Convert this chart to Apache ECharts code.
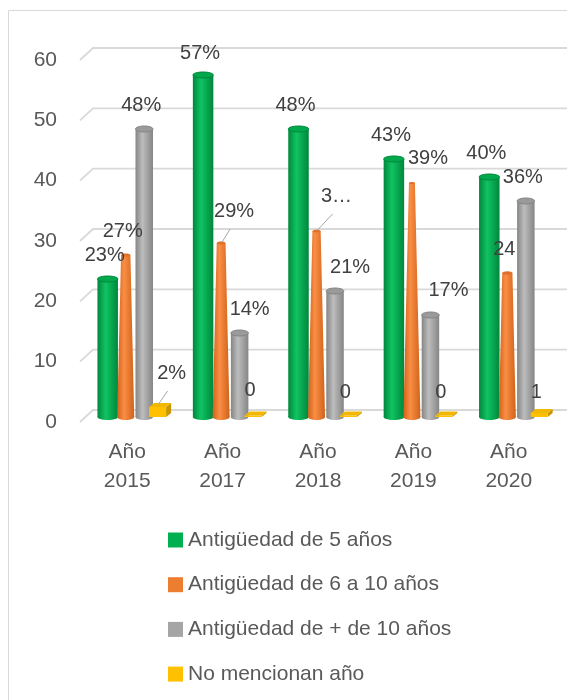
<!DOCTYPE html>
<html>
<head>
<meta charset="utf-8">
<script src="https://cdn.jsdelivr.net/npm/echarts@6/dist/echarts.min.js"></script>
<style>
  html, body { margin: 0; padding: 0; background: #fff; }
  #main { width: 567px; height: 700px; }
</style>
</head>
<body>
<div id="main"></div>
<script>
// datos
var categories = ['Año 2015', 'Año 2017', 'Año 2018', 'Año 2019', 'Año 2020'];
var seriesNames = ['Antigüedad de 5 años', 'Antigüedad de 6 a 10 años', 'Antigüedad de + de 10 años', 'No mencionan año'];
var antig5 = [23, 57, 48, 43, 40];
var antig6a10 = [27, 29, 31, 39, 24];
var antigMas10 = [48, 14, 21, 17, 36];
var noMencionan = [2, 0, 0, 0, 1];
var labels5 = ['23%', '57%', '48%', '43%', '40%'];
var labels6a10 = ['27%', '29%', '3…', '39%', '24'];
var labelsMas10 = ['48%', '14%', '21%', '17%', '36%'];
var labelsNo = ['2%', '0', '0', '0', '1'];
var yTicks = [0, 10, 20, 30, 40, 50, 60];

var font = 'Liberation Sans, Arial, sans-serif';
var values = [antig5, antig6a10, antigMas10, noMencionan];
var labelTexts = [labels5, labels6a10, labelsMas10, labelsNo];
// posicion de cada columna dentro de la categoria (fraccion del ancho)
var slots = [-0.283, -0.094, 0.10, 0.24];
// ajustes manuales de etiquetas [dx, dy, linea guia]
var labelShift = [
  [null, [-3, -22], null, null, null],
  [null, [13, -32, 1], [20, -35, 1], [16, -25], null],
  [null, [10, -24], [15, -24], [18, -25], null],
  [[14, -32, 1], [-3, -27], [-3, -25], [-3, -25], [-3, -19]]
];
var colors = [
  { main: '#00b050', dark: '#00873c', light: '#10c462', top: '#00a84b' },
  { main: '#ed7d31', dark: '#d0621a', light: '#fb8e45', top: '#e0702a' },
  { main: '#a5a5a5', dark: '#858585', light: '#bdbdbd', top: '#9a9a9a' },
  { main: '#ffc000', dark: '#c99600', light: '#ffc000', top: '#f2b800' }
];

function grad(c) {
  return new echarts.graphic.LinearGradient(0, 0, 1, 0, [
    { offset: 0, color: c.dark },
    { offset: 0.4, color: c.light },
    { offset: 1, color: c.dark }
  ]);
}

function cylinder(cx, by, ty, w, c) {
  var r = w / 2;
  return [
    { type: 'rect', shape: { x: cx - r, y: ty, width: w, height: by - ty }, style: { fill: grad(c) } },
    { type: 'ellipse', shape: { cx: cx, cy: by, rx: r, ry: 3 }, style: { fill: grad(c) } },
    { type: 'ellipse', shape: { cx: cx, cy: ty, rx: r, ry: 3 }, style: { fill: c.top, stroke: c.dark, lineWidth: 1 } }
  ];
}

function cone(cx, by, ty, v, c) {
  var wb = 17, wt = wb * (1 - v / 60);
  return [
    { type: 'polygon', shape: { points: [[cx - wb / 2, by], [cx + wb / 2, by], [cx + wt / 2, ty], [cx - wt / 2, ty]] }, style: { fill: grad(c) } },
    { type: 'ellipse', shape: { cx: cx, cy: by, rx: wb / 2, ry: 3 }, style: { fill: grad(c) } },
    { type: 'ellipse', shape: { cx: cx, cy: ty, rx: wt / 2, ry: Math.max(wt / 6, 0.5) }, style: { fill: c.top } }
  ];
}

function box(cx, by, ty, c) {
  var w = 17, dx = 5, dy = 4;
  var x0 = cx - w / 2, x1 = cx + w / 2;
  var ft = Math.min(ty + 2, by - 1.5);
  return [
    { type: 'polygon', shape: { points: [[x1, ft], [x1 + dx, ft - dy], [x1 + dx, by - dy], [x1, by]] }, style: { fill: c.dark } },
    { type: 'rect', shape: { x: x0, y: ft, width: w, height: by - ft }, style: { fill: c.main } },
    { type: 'polygon', shape: { points: [[x0, ft], [x1, ft], [x1 + dx, ft - dy], [x0 + dx, ft - dy]] }, style: { fill: c.top } }
  ];
}

function makeRender(k) {
  return function (params, api) {
    var i = api.value(0), v = api.value(1);
    var base = api.coord([i, 0]);
    var top = api.coord([i, v]);
    var band = api.size([1, 0])[0];
    var cx = base[0] + band * slots[k];
    var c = colors[k];
    var kids;
    if (k === 1) kids = cone(cx, base[1], top[1], v, c);
    else if (k === 3) kids = box(cx, base[1], top[1], c);
    else kids = cylinder(cx, base[1], top[1], k === 0 ? 20.5 : 17.5, c);
    var sh = labelShift[k][params.dataIndex] || [-3, -24];
    var lx = cx + sh[0], ly = top[1] + sh[1];
    if (sh[2]) {
      kids.push({ type: 'line', z2: 90, shape: { x1: cx + 1, y1: top[1] - 1, x2: lx - 4, y2: ly + 18 }, style: { stroke: '#a6a6a6', lineWidth: 1 } });
    }
    kids.push({
      type: 'text', z2: 100,
      style: { text: labelTexts[k][params.dataIndex], x: lx, y: ly, align: 'center', verticalAlign: 'middle',
        fontSize: 20, fontFamily: font, fill: '#404040' }
    });
    return { type: 'group', children: kids };
  };
}

var series = [{
  type: 'custom',
  xAxisIndex: 1, yAxisIndex: 1,
  z: 1, silent: true,
  data: yTicks.map(function (t) { return [0, t]; }),
  renderItem: function (params, api) {
    var p0 = api.coord([0, api.value(1)]);
    var p1 = api.coord([1, api.value(1)]);
    return {
      type: 'polyline',
      shape: { points: [[p0[0] - 13, p0[1] + 12], [p0[0], p0[1]], [p1[0], p1[1]]] },
      style: { stroke: '#d9d9d9', lineWidth: 1.8, fill: null }
    };
  }
}];
seriesNames.forEach(function (name, k) {
  series.push({
    name: name,
    type: 'custom',
    z: 2,
    itemStyle: { color: colors[k].main },
    data: values[k].map(function (v, i) { return [i, v]; }),
    encode: { x: 0, y: 1 },
    renderItem: makeRender(k)
  });
});

var myChart = echarts.init(document.getElementById('main'));
var option = {
  backgroundColor: '#fff',
  animation: false,
  graphic: [{
    type: 'rect', silent: true,
    shape: { x: 8.5, y: 10.5, width: 700, height: 800 },
    style: { fill: null, stroke: '#d9d9d9', lineWidth: 1 }
  }],
  grid: [
    { left: 87, right: 3, top: 57, bottom: 283 },
    { left: 93, right: 0, top: 48, bottom: 290 },
    { left: 87, right: 3, top: 60, bottom: 278 }
  ],
  xAxis: [{
    type: 'category', gridIndex: 0,
    data: categories,
    axisLine: { show: false }, axisTick: { show: false },
    axisLabel: {
      margin: 21, fontSize: 21, lineHeight: 29, color: '#595959', fontFamily: font,
      padding: [0, 15, 0, 0],
      formatter: function (s) { return s.replace(' ', '\n'); }
    }
  }, {
    type: 'value', gridIndex: 1, min: 0, max: 1, show: false
  }, {
    type: 'value', gridIndex: 2, min: 0, max: 1, show: false
  }],
  yAxis: [{
    type: 'value', gridIndex: 0, min: 0, max: 60, interval: 10, show: false
  }, {
    type: 'value', gridIndex: 1, min: 0, max: 60, interval: 10, show: false, splitLine: { show: false }
  }, {
    // solo etiquetas, en el borde frontal de las lineas 3D
    type: 'value', gridIndex: 2, min: 0, max: 60, interval: 10,
    axisLine: { show: false }, axisTick: { show: false }, splitLine: { show: false },
    axisLabel: { margin: 30, fontSize: 21, color: '#595959', fontFamily: font }
  }],
  legend: {
    orient: 'vertical', left: 168, top: 529, padding: 0,
    icon: 'rect', itemWidth: 15, itemHeight: 15, itemGap: 22.7,
    selectedMode: false,
    data: seriesNames,
    textStyle: { fontSize: 21, lineHeight: 22, color: '#595959', fontFamily: font }
  },
  series: series
};
myChart.setOption(option);
</script>
</body>
</html>
